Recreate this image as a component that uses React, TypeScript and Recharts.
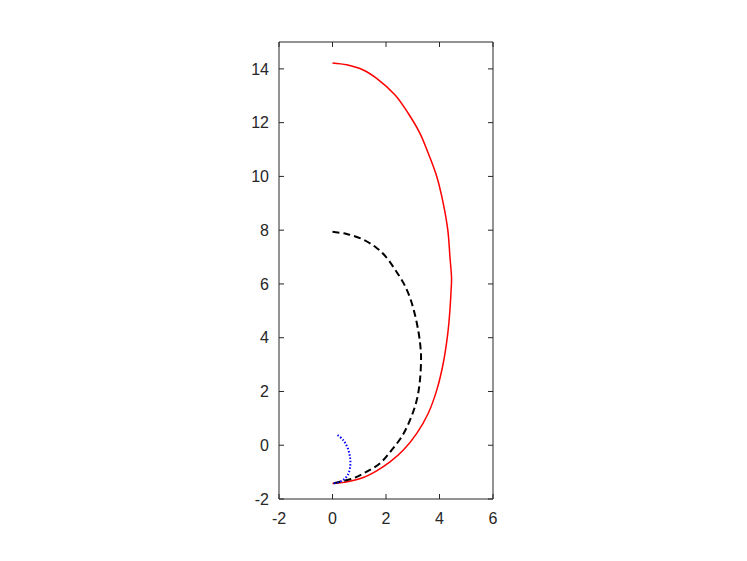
import React from 'react';
import { LineChart, Line, XAxis, YAxis } from 'recharts';

// values
const xTicks = [-2, 0, 2, 4, 6];
const yTicks = [-2, 0, 2, 4, 6, 8, 10, 12, 14];

const solidX = [0, 0.53, 1.15, 1.65, 2.34, 2.83, 3.27, 3.58, 3.9, 4.14, 4.31, 4.39, 4.45, 4.43, 4.39, 4.31, 4.14, 3.9, 3.58, 3.15, 2.65, 2.15, 1.65, 1.15, 0.6, 0.28, 0];
const solidY = [14.22, 14.15, 13.96, 13.65, 13.03, 12.35, 11.6, 10.86, 9.99, 9.0, 8.01, 7.01, 6.2, 5.7, 5.03, 4.16, 3.05, 2.06, 1.19, 0.44, -0.18, -0.62, -0.95, -1.2, -1.35, -1.4, -1.42];

const dashX = [0, 0.53, 1.15, 1.65, 2.03, 2.34, 2.65, 2.9, 3.08, 3.21, 3.28, 3.31, 3.27, 3.15, 2.9, 2.59, 2.21, 1.78, 1.28, 0.78, 0.28, 0.03];
const dashY = [7.94, 7.86, 7.65, 7.34, 6.97, 6.53, 6.04, 5.48, 4.86, 4.24, 3.74, 3.29, 2.43, 1.68, 0.94, 0.32, -0.18, -0.67, -0.98, -1.23, -1.36, -1.42];

const dotX = [0.19, 0.4, 0.57, 0.66, 0.66, 0.57, 0.4, 0.22, 0.03];
const dotY = [0.38, 0.19, -0.11, -0.49, -0.8, -1.11, -1.29, -1.38, -1.42];

const toPoints = (xs: number[], ys: number[]) => xs.map((x, i) => ({ x, y: ys[i] }));

const solidData = toPoints(solidX, solidY);
const dashData = toPoints(dashX, dashY);
const dotData = toPoints(dotX, dotY);

// centripetal catmull-rom, so unevenly spaced points still give a smooth arc
const smoothCurve: any = (ctx: any) => {
    let pts: number[][] = [];
    const seg = (p0: number[], p1: number[], p2: number[], p3: number[]) => {
        const d01 = Math.hypot(p1[0] - p0[0], p1[1] - p0[1]);
        const d12 = Math.hypot(p2[0] - p1[0], p2[1] - p1[1]);
        const d23 = Math.hypot(p3[0] - p2[0], p3[1] - p2[1]);
        const a01 = Math.sqrt(d01), a12 = Math.sqrt(d12), a23 = Math.sqrt(d23);
        let c1x = p1[0], c1y = p1[1], c2x = p2[0], c2y = p2[1];
        if (a01 > 1e-6) {
            const a = 2 * d01 + 3 * a01 * a12 + d12;
            const n = 3 * a01 * (a01 + a12);
            c1x = (p1[0] * a - p0[0] * d12 + p2[0] * d01) / n;
            c1y = (p1[1] * a - p0[1] * d12 + p2[1] * d01) / n;
        }
        if (a23 > 1e-6) {
            const b = 2 * d23 + 3 * a23 * a12 + d12;
            const m = 3 * a23 * (a23 + a12);
            c2x = (p2[0] * b + p1[0] * d23 - p3[0] * d12) / m;
            c2y = (p2[1] * b + p1[1] * d23 - p3[1] * d12) / m;
        }
        ctx.bezierCurveTo(c1x, c1y, c2x, c2y, p2[0], p2[1]);
    };
    return {
        areaStart() { },
        areaEnd() { },
        lineStart() { pts = []; },
        point(x: number, y: number) { pts.push([+x, +y]); },
        lineEnd() {
            if (!pts.length) return;
            ctx.moveTo(pts[0][0], pts[0][1]);
            for (let i = 0; i < pts.length - 1; i++) {
                seg(pts[i - 1] || pts[i], pts[i], pts[i + 1], pts[i + 2] || pts[i + 1]);
            }
        },
    };
};

const axisColor = "#262626";
const tickStyle = { fill: axisColor, fontSize: 16, fontFamily: "Liberation Sans, Arial, sans-serif" };
const blank = () => '';

export default function App() {
    return (
        <div style={{ position: "absolute", left: 0, top: 0, width: 747, height: 561, background: "#fff" }}>
            <LineChart width={747} height={561} margin={{ top: 41, right: 253, bottom: 32, left: 239 }}>
                <XAxis dataKey="x" type="number" domain={[-2, 6]} ticks={xTicks} allowDataOverflow
                    height={30} tickSize={-5} tickMargin={19} tick={tickStyle}
                    axisLine={{ stroke: axisColor }} tickLine={{ stroke: axisColor }} />
                <XAxis xAxisId="top" orientation="top" dataKey="x" type="number" domain={[-2, 6]} ticks={xTicks} allowDataOverflow
                    height={1} tickSize={-5} tickFormatter={blank}
                    axisLine={{ stroke: axisColor }} tickLine={{ stroke: axisColor }} />
                <YAxis dataKey="y" type="number" domain={[-2, 15]} ticks={yTicks} allowDataOverflow
                    width={40} tickSize={-5} tickMargin={15} tick={tickStyle}
                    axisLine={{ stroke: axisColor }} tickLine={{ stroke: axisColor }} />
                <YAxis yAxisId="right" orientation="right" dataKey="y" type="number" domain={[-2, 15]} ticks={yTicks} allowDataOverflow
                    width={1} tickSize={-5} tickFormatter={blank}
                    axisLine={{ stroke: axisColor }} tickLine={{ stroke: axisColor }} />
                {/* invisible copy so the top/right box axes get drawn */}
                <Line data={solidData} xAxisId="top" yAxisId="right" dataKey="y" stroke="none" dot={false} isAnimationActive={false} />
                <Line data={solidData} dataKey="y" type={smoothCurve} stroke="#ff0000" strokeWidth={1.5} dot={false} isAnimationActive={false} />
                <Line data={dashData} dataKey="y" type={smoothCurve} stroke="#000000" strokeWidth={2} strokeDasharray="7 4" dot={false} isAnimationActive={false} />
                <Line data={dotData} dataKey="y" type={smoothCurve} stroke="#0000ff" strokeWidth={2} strokeDasharray="1.5 1.8" dot={false} isAnimationActive={false} />
            </LineChart>
        </div>
    );
}
